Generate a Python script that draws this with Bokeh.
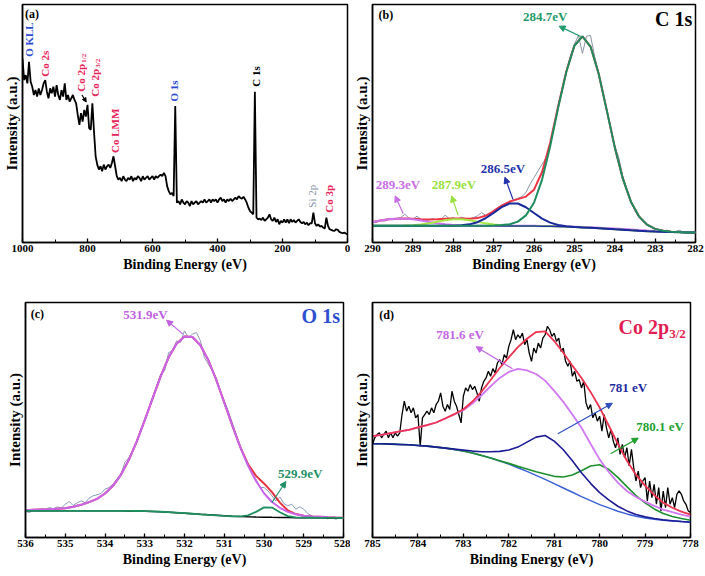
from bokeh.plotting import figure
from bokeh.layouts import column, row
from bokeh.models import Range1d, FixedTicker, Arrow, NormalHead
from bokeh.core.properties import value
from bokeh.embed import file_html
from bokeh.resources import INLINE

FONT = "Liberation Serif"
AXFONT = "'Liberation Serif', serif"

# ---------------- (a) survey spectrum, 1000 -> 0 eV every 5 eV ----------------
survey_int = [
    555, 490, 505, 480, 545, 485, 470, 445, 460, 440,
    465, 445, 460, 480, 490, 455, 435, 465, 450, 470,
    440, 475, 445, 430, 460, 440, 480, 430, 445, 425,
    435, 445, 430, 420, 385, 355, 390, 365, 400, 380,
    415, 345, 340, 420, 335, 260, 235, 220, 230, 215,
    235, 220, 230, 235, 225, 240, 260, 230, 200, 190,
    195, 185, 200, 190, 185, 195, 190, 200, 185, 195,
    190, 200, 195, 185, 200, 190, 195, 200, 190, 195,
    200, 190, 200, 195, 200, 205, 200, 210, 200, 170,
    155, 145, 150, 140, 412, 120, 125, 115, 130, 120,
    115, 125, 120, 110, 125, 115, 120, 125, 115, 120,
    125, 120, 130, 120, 125, 130, 120, 130, 125, 130,
    120, 130, 135, 125, 130, 120, 130, 125, 132, 125,
    130, 135, 130, 140, 135, 132, 138, 130, 120, 105,
    95, 90, 85, 455, 75, 70, 72, 68, 75, 65,
    70, 75, 85, 70, 65, 75, 62, 70, 55, 65,
    60, 70, 60, 70, 58, 70, 62, 68, 60, 65,
    70, 62, 58, 62, 55, 60, 52, 58, 58, 90,
    58, 50, 55, 48, 50, 45, 42, 75, 50, 40,
    38, 36, 35, 40, 38, 32, 30, 28, 30, 27,
    25]
survey_be = [1000 - 5 * i for i in range(len(survey_int))]
survey_ticks = [1000, 800, 600, 400, 200, 0]

# ---------------- (b) C 1s ----------------
c1s_raw = [
    63, 60, 66, 64, 70, 68, 72, 75, 85, 74,
    70, 79, 70, 66, 68, 72, 68, 70, 82, 72,
    75, 70, 76, 72, 70, 75, 80, 90, 82, 85,
    96, 105, 112, 118, 122, 128, 133, 138, 150, 175,
    195, 215, 235, 255, 295, 350, 410, 460, 515, 560,
    595, 622, 568, 620, 622, 560, 510, 455, 400, 345,
    290, 255, 200, 160, 125, 95, 75, 62, 52, 48,
    40, 36, 35, 37, 30, 33, 37, 31, 30, 29,
    30]
c1s_raw_be = [round(290 - 0.1 * i, 2) for i in range(len(c1s_raw))]
c1s_bg = [50, 50, 50, 50, 50, 50, 50, 50, 50, 50, 50, 50, 50, 50, 50, 50,
          49.9, 49.8, 49.7, 49.6, 49.4, 49.1, 48.7, 48.2, 47.4, 46.5, 45.4, 44.1,
          42.7, 41.2, 39.6, 38.1, 36.6, 35.2, 34.0, 33.0, 32.2, 31.5, 30.9, 30.4, 30.0]
c1s_p2893 = [61.6, 65.9, 69.6, 71.7, 71.7, 69.6, 65.9, 61.6, 57.7, 54.6, 52.4, 51.2, 50.5, 50.2,
             50, 50, 50, 50, 50, 50, 50, 49.8, 49.5, 49.0, 48.4, 47.6, 46.7, 45.6, 44.4,
             43.1, 41.7, 40.2, 38.7, 37.2, 35.8, 34.5, 33.3, 32.3, 31.4, 30.6, 30.0]
c1s_p2879 = [50, 50, 50, 50, 50.7, 51.8, 54.0, 57.5, 62.1, 66.7, 69.6, 69.6, 66.7, 62.1, 57.5,
             54.0, 51.7, 50.5, 49.7, 49.6, 49.4, 49.1, 48.7, 48.2, 47.4, 46.5, 45.4, 44.1,
             42.7, 41.2, 39.6, 38.1, 36.6, 35.2, 34.0, 33.0, 32.2, 31.5, 30.9, 30.4, 30.0]
c1s_p2865 = [50, 50, 50, 50, 50, 50, 50, 50, 50, 50, 50, 51.5, 54.5, 61.0, 72.8, 89.2, 106.2,
             117.3, 117.2, 105.9, 88.6, 71.9, 59.7, 52.7, 48.9, 46.9, 45.4, 44.1, 42.7, 41.2,
             39.6, 38.1, 36.6, 35.2, 34.0, 33.0, 32.2, 31.5, 30.9, 30.4, 30.0]
c1s_p2847 = [50, 50, 50, 50, 50, 50, 50, 50, 50, 50, 50, 50, 50, 50, 50, 51.0, 52.8, 54.8,
             62.7, 81.6, 119.4, 189.1, 288.7, 405.4, 512.3, 591.1, 619.4, 588.7, 507.6,
             398.4, 286.5, 191.7, 122.6, 78.6, 53.6, 41.0, 35.1, 32.5, 31.2, 30.4, 30.0]
c1s_env = [61.6, 65.9, 69.6, 71.7, 72.4, 71.4, 69.9, 69.1, 69.8, 71.3, 72.0, 72.3, 71.7, 73.3,
           80.3, 94.2, 110.9, 123.0, 130.2, 137.9, 158.6, 211.9, 299.7, 409.9, 513.8, 591.5,
           619.4, 588.7, 507.6, 398.4, 286.5, 191.7, 122.6, 78.6, 53.6, 41.0, 35.1, 32.5,
           31.2, 30.4, 30.0]
c1s_be = [round(290 - 0.2 * i, 2) for i in range(len(c1s_env))]
c1s_ticks = [290, 289, 288, 287, 286, 285, 284, 283, 282]

# ---------------- (c) O 1s ----------------
o1s_raw = [
    78, 75, 82, 80, 86, 84, 90, 86, 92, 88,
    100, 108, 96, 104, 110, 104, 118, 125, 128, 132,
    145, 150, 160, 175, 190, 225, 240, 262, 290, 325,
    350, 385, 420, 455, 490, 500, 555, 560, 590, 585,
    620, 600, 610, 615, 590, 540, 520, 500, 480, 440,
    410, 380, 345, 310, 270, 240, 215, 190, 175, 150,
    150, 140, 125, 110, 122, 102, 95, 100, 85, 92,
    85, 72, 65, 60, 58, 64, 56, 60, 55, 58,
    57]
o1s_raw_be = [round(536 - 0.1 * i, 2) for i in range(len(o1s_raw))]
o1s_bg = [80, 80, 80, 80, 80, 80, 80, 80, 80, 80, 80, 80, 80, 79.8, 79.5, 79, 78.3, 77.3, 76,
          74.5, 73, 71.3, 69.6, 68, 66.5, 65, 63.8, 62.8, 62, 61.3, 60.8, 60.4, 60.1, 59.8,
          59.6, 59.4, 59.2, 59.0, 58.8, 58.6, 58.5]
o1s_p5319 = [82, 83, 84, 85, 86.5, 88, 92, 98, 106, 116, 132, 155, 188, 232.8, 288.5, 352,
             418.3, 483.3, 540, 581.5, 603, 601.3, 576.6, 532, 472.5, 405, 336.8, 271.8, 215,
             169.3, 132.8, 106.4, 89.1, 76.8, 69.6, 65.4, 63.2, 62, 60.8, 60.1, 59.5]
o1s_p5299 = [80, 80, 80, 80, 80, 80, 80, 80, 80, 80, 80, 80, 80, 79.8, 79.5, 79, 78.3, 77.3, 76,
             74.5, 73, 71.3, 69.6, 68, 66.5, 65, 63.8, 63.4, 66.3, 76.9, 90.3, 89.9, 75.7, 64.1,
             60.2, 59.4, 59.2, 59.0, 58.8, 58.6, 58.5]
o1s_env = [82, 83, 84, 85, 86.5, 88, 92, 98, 106, 116, 132, 155, 188, 232.8, 288.5, 352,
           418.3, 483.3, 540, 581.5, 603, 601.3, 576.6, 532, 472.5, 405, 336.8, 272.4, 219.3,
           184.9, 162.3, 135.9, 104.7, 81.1, 70.2, 65.4, 63.2, 62, 60.8, 60.1, 59.5]
o1s_be = [round(536 - 0.2 * i, 2) for i in range(len(o1s_env))]
o1s_ticks = [536, 535, 534, 533, 532, 531, 530, 529, 528]

# ---------------- (d) Co 2p3/2 ----------------
co_raw = [
    280, 300, 310, 315, 300, 310, 320, 300, 315, 300,
    315, 305, 315, 370, 410, 380, 395, 375, 390, 360,
    370, 275, 360, 370, 380, 370, 390, 375, 400, 410,
    435, 395, 380, 400, 385, 440, 410, 395, 370, 345,
    425, 450, 440, 460, 445, 455, 435, 410, 450, 470,
    480, 500, 485, 508, 495, 525, 535, 520, 550, 540,
    575, 595, 625, 595, 610, 600, 615, 580, 595, 555,
    530, 570, 555, 585, 570, 600, 610, 635, 625, 605,
    615, 590, 600, 560, 570, 530, 515, 530, 485, 500,
    470, 475, 450, 470, 405, 385, 400, 360, 375, 350,
    365, 320, 370, 330, 300, 325, 290, 270, 300, 250,
    280, 240, 270, 215, 265, 210, 170, 200, 150, 170,
    180, 110, 170, 120, 160, 100, 150, 80, 140, 90,
    150, 100, 120, 90, 130, 140, 130, 110, 100, 80,
    75]
co_raw_be = [round(785 - 0.05 * i, 3) for i in range(len(co_raw))]
co_bg = [282, 282, 281, 280, 279, 277, 275, 272, 269, 265, 260, 254, 247, 239, 230, 221, 210,
         199, 187, 175, 162, 149, 136, 123, 111, 99, 89, 79, 71, 64, 59, 55, 52, 50, 48, 46]
co_p7816 = [305, 309, 314, 319, 324, 331, 338, 346, 358, 370, 383, 403, 428, 455, 480, 498,
            507, 503, 492, 472, 441, 408, 370, 330, 282, 235, 197, 165, 140, 122, 108, 95,
            84, 76, 69, 63]
co_p781 = [282, 282, 281, 280, 279, 277, 275, 272, 269, 266, 263, 260, 258, 258, 259, 263,
           272, 287, 302, 307, 290, 264, 231, 195, 163, 135, 113, 94, 80, 69, 62, 57, 53,
           50.5, 48, 46]
co_p7801 = [282, 282, 281, 280, 279, 277, 275, 272, 269, 265, 260, 254, 247, 239, 231, 223,
            214, 206, 198, 191, 184, 182, 188, 201, 215, 219, 205, 181, 153, 126, 104, 86,
            72, 63, 57, 52]
co_env = [305, 309, 314, 319, 324, 331, 338, 346, 358, 371, 386, 409, 439, 474, 510, 542, 573,
          598, 618, 620, 591, 556, 517, 480, 438, 391, 337, 282, 231, 189, 156, 128, 105, 89.5,
          78, 69]
co_be = [round(785 - 0.2 * i, 2) for i in range(len(co_env))]
co_ticks = [785, 784, 783, 782, 781, 780, 779, 778]

RED = "#e6245a"
BLUE = "#2d4fd0"


def midpoints(t):
    return [(t[i] + t[i + 1]) / 2 for i in range(len(t) - 1)]


def base(width, height, xr, yr, ticks, bl, br, bt, bb):
    p = figure(width=width, height=height,
               x_range=Range1d(xr[0], xr[1]), y_range=Range1d(yr[0], yr[1]),
               output_backend="svg", toolbar_location=None,
               min_border_left=bl, min_border_right=br,
               min_border_top=bt, min_border_bottom=bb)
    p.xgrid.visible = False
    p.ygrid.visible = False
    p.outline_line_color = "black"
    p.outline_line_width = 1.5
    p.outline_line_alpha = 1.0
    xa = p.xaxis[0]
    xa.ticker = FixedTicker(ticks=ticks, minor_ticks=midpoints(ticks))
    xa.axis_label = "Binding Energy (eV)"
    xa.axis_label_text_font = AXFONT
    xa.axis_label_text_font_style = "bold"
    xa.axis_label_text_font_size = "14px"
    xa.axis_label_text_color = "black"
    xa.axis_label_standoff = 2
    xa.major_label_text_font = FONT
    xa.major_label_text_font_style = "bold"
    xa.major_label_text_font_size = "11px"
    xa.major_label_text_color = "black"
    xa.major_label_standoff = 2
    xa.major_tick_in = 4
    xa.major_tick_out = 0
    xa.minor_tick_in = 3
    xa.minor_tick_out = 0
    xa.axis_line_width = 1.5
    xa.major_tick_line_width = 1.3
    ya = p.yaxis[0]
    ya.ticker = FixedTicker(ticks=[])
    ya.axis_label = "Intensity (a.u.)"
    ya.axis_label_text_font = AXFONT
    ya.axis_label_text_font_style = "bold"
    ya.axis_label_text_font_size = "15px"
    ya.axis_label_text_color = "black"
    ya.axis_label_standoff = 3
    ya.major_label_standoff = 0
    ya.major_tick_in = 0
    ya.major_tick_out = 0
    ya.minor_tick_in = 0
    ya.minor_tick_out = 0
    ya.axis_line_width = 1.5
    return p


def txt(p, x, y, s, color, size, align="center", baseline="middle", angle=0.0,
        style="bold", xo=0, yo=0):
    p.text(x=[x], y=[y], text=[s], text_color=color, text_font=value(FONT),
           text_font_size=f"{size}px", text_font_style=style, text_align=align,
           text_baseline=baseline, angle=angle, x_offset=xo, y_offset=yo)


def arrow(p, x0, y0, x1, y1, color, size=6):
    p.add_layout(Arrow(end=NormalHead(size=size, fill_color=color, line_color=color, line_width=1),
                       x_start=x0, y_start=y0, x_end=x1, y_end=y1,
                       line_color=color, line_width=1.2))


V = 1.5707963

# ---- panel (a)
pa = base(350, 280, (1000, 0), (0, 718), survey_ticks, 20, 3, 4, 37)
pa.line(survey_be, survey_int, line_color="black", line_width=1.8)
txt(pa, 992, 688, "(a)", "black", 12, align="left")
txt(pa, 980, 560, "O KLL", BLUE, 11, align="left", angle=V)
txt(pa, 930, 500, "Co 2s", RED, 11, align="left", angle=V)
txt(pa, 820, 455, "Co 2p", RED, 11, align="left", angle=V)
txt(pa, 820, 455, "1/2", RED, 7, align="left", angle=V, xo=3, yo=-29)
arrow(pa, 817, 445, 804, 424, "black", size=4)
txt(pa, 776, 440, "Co 2p", RED, 11, align="left", angle=V)
txt(pa, 776, 440, "3/2", RED, 7, align="left", angle=V, xo=3, yo=-29)
txt(pa, 714, 270, "Co LMM", RED, 11, align="left", angle=V)
txt(pa, 534, 425, "O 1s", BLUE, 11, align="left", angle=V)
txt(pa, 283, 470, "C 1s", "black", 11, align="left", angle=V)
txt(pa, 108, 105, "Si 2p", "#8797a8", 11, align="left", angle=V, style="normal")
txt(pa, 57, 90, "Co 3p", RED, 11, align="left", angle=V)

# ---- panel (b)
pb = base(355, 280, (290, 282), (0, 715), c1s_ticks, 21, 10, 4, 38)
pb.line(c1s_raw_be, c1s_raw, line_color="#8a94a6", line_width=1)
pb.line(c1s_be, c1s_env, line_color="#ee3344", line_width=2)
pb.line(c1s_be, c1s_p2893, line_color="#cf72ef", line_width=2)
pb.line(c1s_be, c1s_p2879, line_color="#a6e844", line_width=2)
pb.line(c1s_be, c1s_bg, line_color="#2233aa", line_width=1.5)
pb.line(c1s_be, c1s_p2865, line_color="#1a2a9c", line_width=2)
pb.line(c1s_be, c1s_p2847, line_color="#1e8c5e", line_width=2)
txt(pb, 289.85, 682, "(b)", "black", 12, align="left")
txt(pb, 282.08, 672, "C 1s", "black", 20, align="right")
txt(pb, 285.72, 680, "284.7eV", "#1e9a6a", 13)
arrow(pb, 284.84, 619, 285.38, 650, "#1e9a6a")
txt(pb, 286.77, 222, "286.5eV", "#2233aa", 13)
arrow(pb, 286.52, 129, 286.72, 196, "#2233aa")
txt(pb, 287.98, 174, "287.9eV", "#98e03c", 13)
arrow(pb, 287.88, 82, 288.04, 140, "#98e03c")
txt(pb, 289.37, 174, "289.3eV", "#c86ee6", 13)
arrow(pb, 289.24, 87, 289.44, 140, "#c86ee6")

# ---- panel (c)
pc = base(350, 296, (536, 528), (0, 705), o1s_ticks, 25, 7, 22, 39)
pc.line(o1s_raw_be, o1s_raw, line_color="#8a9bb8", line_width=1)
pc.line(o1s_be, o1s_env, line_color="#e8303c", line_width=2)
pc.line(o1s_be, o1s_p5319, line_color="#c865ea", line_width=2)
pc.line(o1s_be, o1s_bg, line_color="black", line_width=1.5)
pc.line(o1s_be, o1s_p5299, line_color="#1e9060", line_width=1.8)
txt(pc, 535.87, 670, "(c)", "black", 12, align="left")
txt(pc, 528.09, 665, "O 1s", BLUE, 20, align="right")
txt(pc, 532.98, 668, "531.9eV", "#c060e0", 13)
arrow(pc, 532.04, 610, 532.45, 652, "#c060e0")
txt(pc, 529.09, 193, "529.9eV", "#1e9068", 13)
arrow(pc, 529.8, 105, 529.45, 168, "#1e9068")

# ---- panel (d)
pd_ = base(355, 296, (785, 778), (0, 707), co_ticks, 20, 15, 21, 39)
pd_.line(co_raw_be, co_raw, line_color="black", line_width=1.3)
pd_.line(co_be, co_bg, line_color="#3a62d6", line_width=1.5)
pd_.line(co_be, co_p7801, line_color="#1e9030", line_width=1.6)
pd_.line(co_be, co_p781, line_color="#1c1c96", line_width=1.6)
pd_.line(co_be, co_p7816, line_color="#d178f2", line_width=1.8)
pd_.line(co_be, co_env, line_color="#ee3350", line_width=1.8)
txt(pd_, 784.85, 670, "(d)", "black", 12, align="left")
txt(pd_, 778.47, 632, "Co 2p", "#e21f55", 20, align="right", baseline="alphabetic")
txt(pd_, 778.47, 632, "3/2", "#e21f55", 13, align="left", baseline="alphabetic", yo=6)
txt(pd_, 783.07, 612, "781.6 eV", "#c266e6", 13)
arrow(pd_, 781.92, 508, 782.72, 574, "#c266e6")
txt(pd_, 779.37, 450, "781 eV", "#1c2aa0", 13)
arrow(pd_, 780.92, 312, 779.72, 404, "#3050c0")
txt(pd_, 778.67, 335, "780.1 eV", "#22a030", 13)
arrow(pd_, 779.76, 252, 779.15, 299, "#22a030")

layout = column(row(pa, pb), row(pc, pd_))
open("out.html", "w").write(file_html(layout, INLINE))
